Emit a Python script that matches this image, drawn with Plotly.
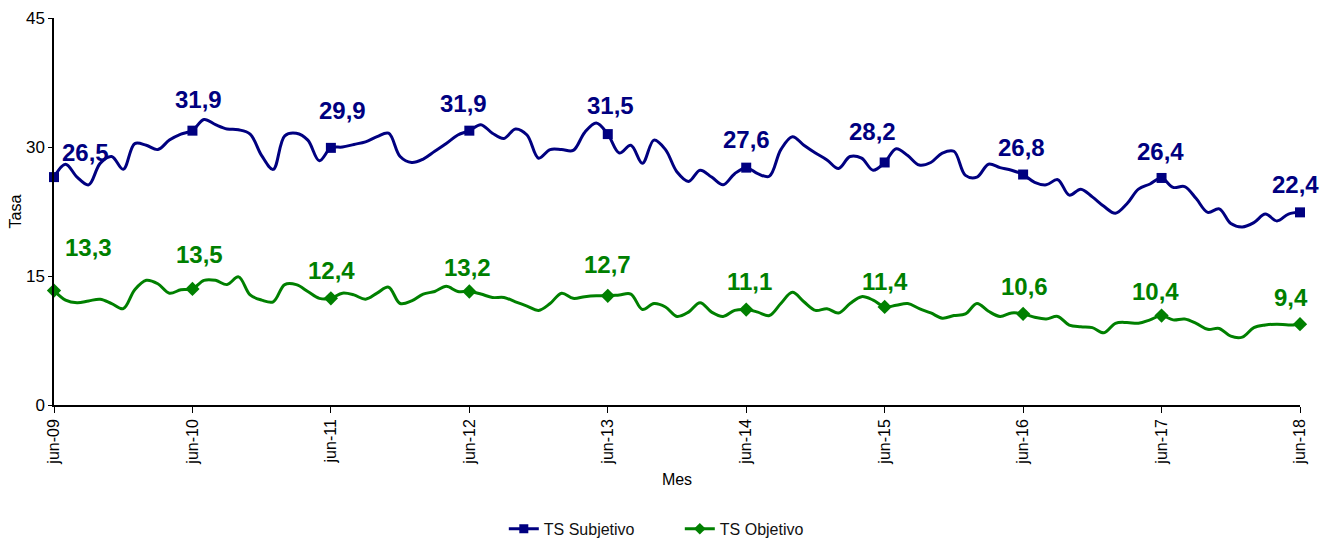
import plotly.graph_objects as go

# ---- data -------------------------------------------------------------
month_abbr = ["jun", "jul", "ago", "sep", "oct", "nov", "dic",
              "ene", "feb", "mar", "abr", "may"]
years = ["09", "10", "11", "12", "13", "14", "15", "16", "17", "18"]

months = []
for yi in range(len(years)):
    for mi, m in enumerate(month_abbr):
        if mi >= 7:
            if yi + 1 < len(years):
                months.append(f"{m}-{years[yi + 1]}")
        else:
            months.append(f"{m}-{years[yi]}")
months = months[:109]

ts_subjetivo = [
    26.5, 28.0, 26.5, 25.6, 28.1, 28.9, 27.4, 30.4, 30.2, 29.7, 30.8, 31.5,
    31.9, 33.2, 32.6, 32.1, 32.0, 31.5, 29.0, 27.4, 31.3, 31.6, 30.8, 28.4,
    29.9, 30.0, 30.3, 30.6, 31.2, 31.6, 28.9, 28.2, 28.6, 29.5, 30.4, 31.4,
    31.9, 32.6, 31.6, 31.0, 32.1, 31.4, 28.7, 29.7, 29.7, 29.6, 31.7, 32.8,
    31.5, 29.3, 30.2, 28.1, 30.8, 29.7, 27.1, 26.0, 27.3, 26.5, 25.6, 26.9,
    27.6, 26.9, 26.6, 29.7, 31.2, 30.2, 29.3, 28.5, 27.5, 28.9, 28.7, 27.3,
    28.2, 29.8, 29.0, 27.9, 28.2, 29.3, 29.5, 26.7, 26.5, 28.0, 27.6, 27.3,
    26.8, 25.9, 25.6, 26.2, 24.4, 25.1, 24.2, 23.1, 22.3, 23.4, 25.1, 25.7,
    26.4, 25.3, 25.4, 24.0, 22.4, 22.8, 21.1, 20.7, 21.2, 22.2, 21.4, 22.2,
    22.4,
]

ts_objetivo = [
    13.3, 12.2, 11.9, 12.1, 12.3, 11.8, 11.2, 13.4, 14.5, 14.1, 13.0, 13.4,
    13.5, 14.5, 14.5, 14.0, 14.9, 12.8, 12.2, 12.0, 14.0, 14.0, 13.2, 12.4,
    12.4, 13.0, 12.8, 12.3, 13.0, 13.7, 11.8, 12.1, 12.9, 13.2, 13.8, 13.2,
    13.2, 12.9, 12.5, 12.5, 12.0, 11.5, 11.0, 11.8, 13.0, 12.4, 12.6, 12.7,
    12.7, 12.8, 12.9, 11.1, 11.8, 11.4, 10.3, 10.8, 11.9, 10.8, 10.3, 11.0,
    11.1, 10.8, 10.4, 11.8, 13.1, 12.0, 11.0, 11.2, 10.7, 11.8, 12.6, 12.2,
    11.4, 11.6, 11.8, 11.2, 10.7, 10.1, 10.4, 10.6, 11.8, 10.9, 10.3, 10.7,
    10.6, 10.2, 10.0, 10.3, 9.3, 9.1, 9.0, 8.4, 9.5, 9.6, 9.5, 9.9,
    10.4, 9.9, 10.0, 9.5, 8.8, 8.9, 8.0, 7.9, 9.0, 9.3, 9.4, 9.3,
    9.4,
]

june_labels = ["jun-09", "jun-10", "jun-11", "jun-12", "jun-13",
               "jun-14", "jun-15", "jun-16", "jun-17", "jun-18"]
y_ticks = [0, 15, 30, 45]

# ---- style ------------------------------------------------------------
BLUE = "#000080"
GREEN = "#008000"
FONT = "Liberation Sans, Arial, sans-serif"

# label offsets (pixels) for the June data labels
blue_off = [(31, 25), (6, 31), (12, 37), (-6, 27), (3, 29),
            (0, 28), (-12, 31), (-2, 27), (-1, 26), (-5, 28)]
green_off = [(34, 43), (7, 34), (1, 28), (-2, 24), (0, 31),
             (3, 28), (0, 25), (1, 27), (-6, 24), (-9, 27)]

june_idx = [months.index(j) for j in june_labels]

fig = go.Figure()

series = [
    ("TS Subjetivo", ts_subjetivo, BLUE, "square", 10, blue_off),
    ("TS Objetivo", ts_objetivo, GREEN, "diamond", 11, green_off),
]

annotations = []
for name, vals, color, sym, msize, offs in series:
    fig.add_trace(go.Scatter(
        x=months, y=vals, mode="lines",
        line=dict(color=color, width=3, shape="spline", smoothing=1.0),
        showlegend=False, cliponaxis=False, name=name))
    fig.add_trace(go.Scatter(
        x=[months[k] for k in june_idx], y=[vals[k] for k in june_idx],
        mode="markers",
        marker=dict(color=color, symbol=sym, size=msize),
        showlegend=False, cliponaxis=False, name=name))
    fig.add_trace(go.Scatter(
        x=[None], y=[None], mode="lines+markers", name=name,
        line=dict(color=color, width=3),
        marker=dict(color=color, symbol=sym, size=9)))
    for i, k in enumerate(june_idx):
        dx, dy = offs[i]
        annotations.append(dict(
            x=months[k], y=vals[k], xref="x", yref="y",
            text="<b>" + f"{vals[k]:.1f}".replace(".", ",") + "</b>",
            showarrow=False, xshift=dx, yshift=dy,
            font=dict(family=FONT, size=24, color=color)))

fig.update_layout(
    width=1321, height=540,
    margin=dict(l=54, r=21, t=18, b=135, autoexpand=False),
    paper_bgcolor="white", plot_bgcolor="white",
    font=dict(family=FONT, color="black"),
    annotations=annotations,
    showlegend=True,
    legend=dict(orientation="h", x=0.361, xanchor="left",
                y=-0.32, yanchor="middle",
                entrywidth=131, entrywidthmode="pixels",
                font=dict(family=FONT, size=16, color="#111111"),
                tracegroupgap=0),
)

fig.update_xaxes(
    type="category", categoryorder="array", categoryarray=months,
    range=[0, len(months) - 1],
    tickmode="array", tickvals=june_labels, ticktext=june_labels,
    tickangle=-90, ticks="outside", ticklen=6, tickcolor="black",
    tickfont=dict(family=FONT, size=16, color="black"),
    showline=True, linecolor="black", linewidth=1.5,
    showgrid=False, zeroline=False, automargin=False,
    title=dict(text="Mes", standoff=10,
               font=dict(family=FONT, size=16, color="black")),
)

fig.update_yaxes(
    range=[0, 45], tickmode="array", tickvals=y_ticks,
    ticks="outside", ticklen=4, tickcolor="black",
    tickfont=dict(family=FONT, size=17, color="black"),
    showline=True, linecolor="black", linewidth=1.5,
    showgrid=False, zeroline=False, automargin=False,
    title=dict(text="Tasa", standoff=0,
               font=dict(family=FONT, size=16, color="black")),
)

fig.write_html("out.html",
               config={"displayModeBar": False},
               post_script="document.body.style.margin='0px';")
